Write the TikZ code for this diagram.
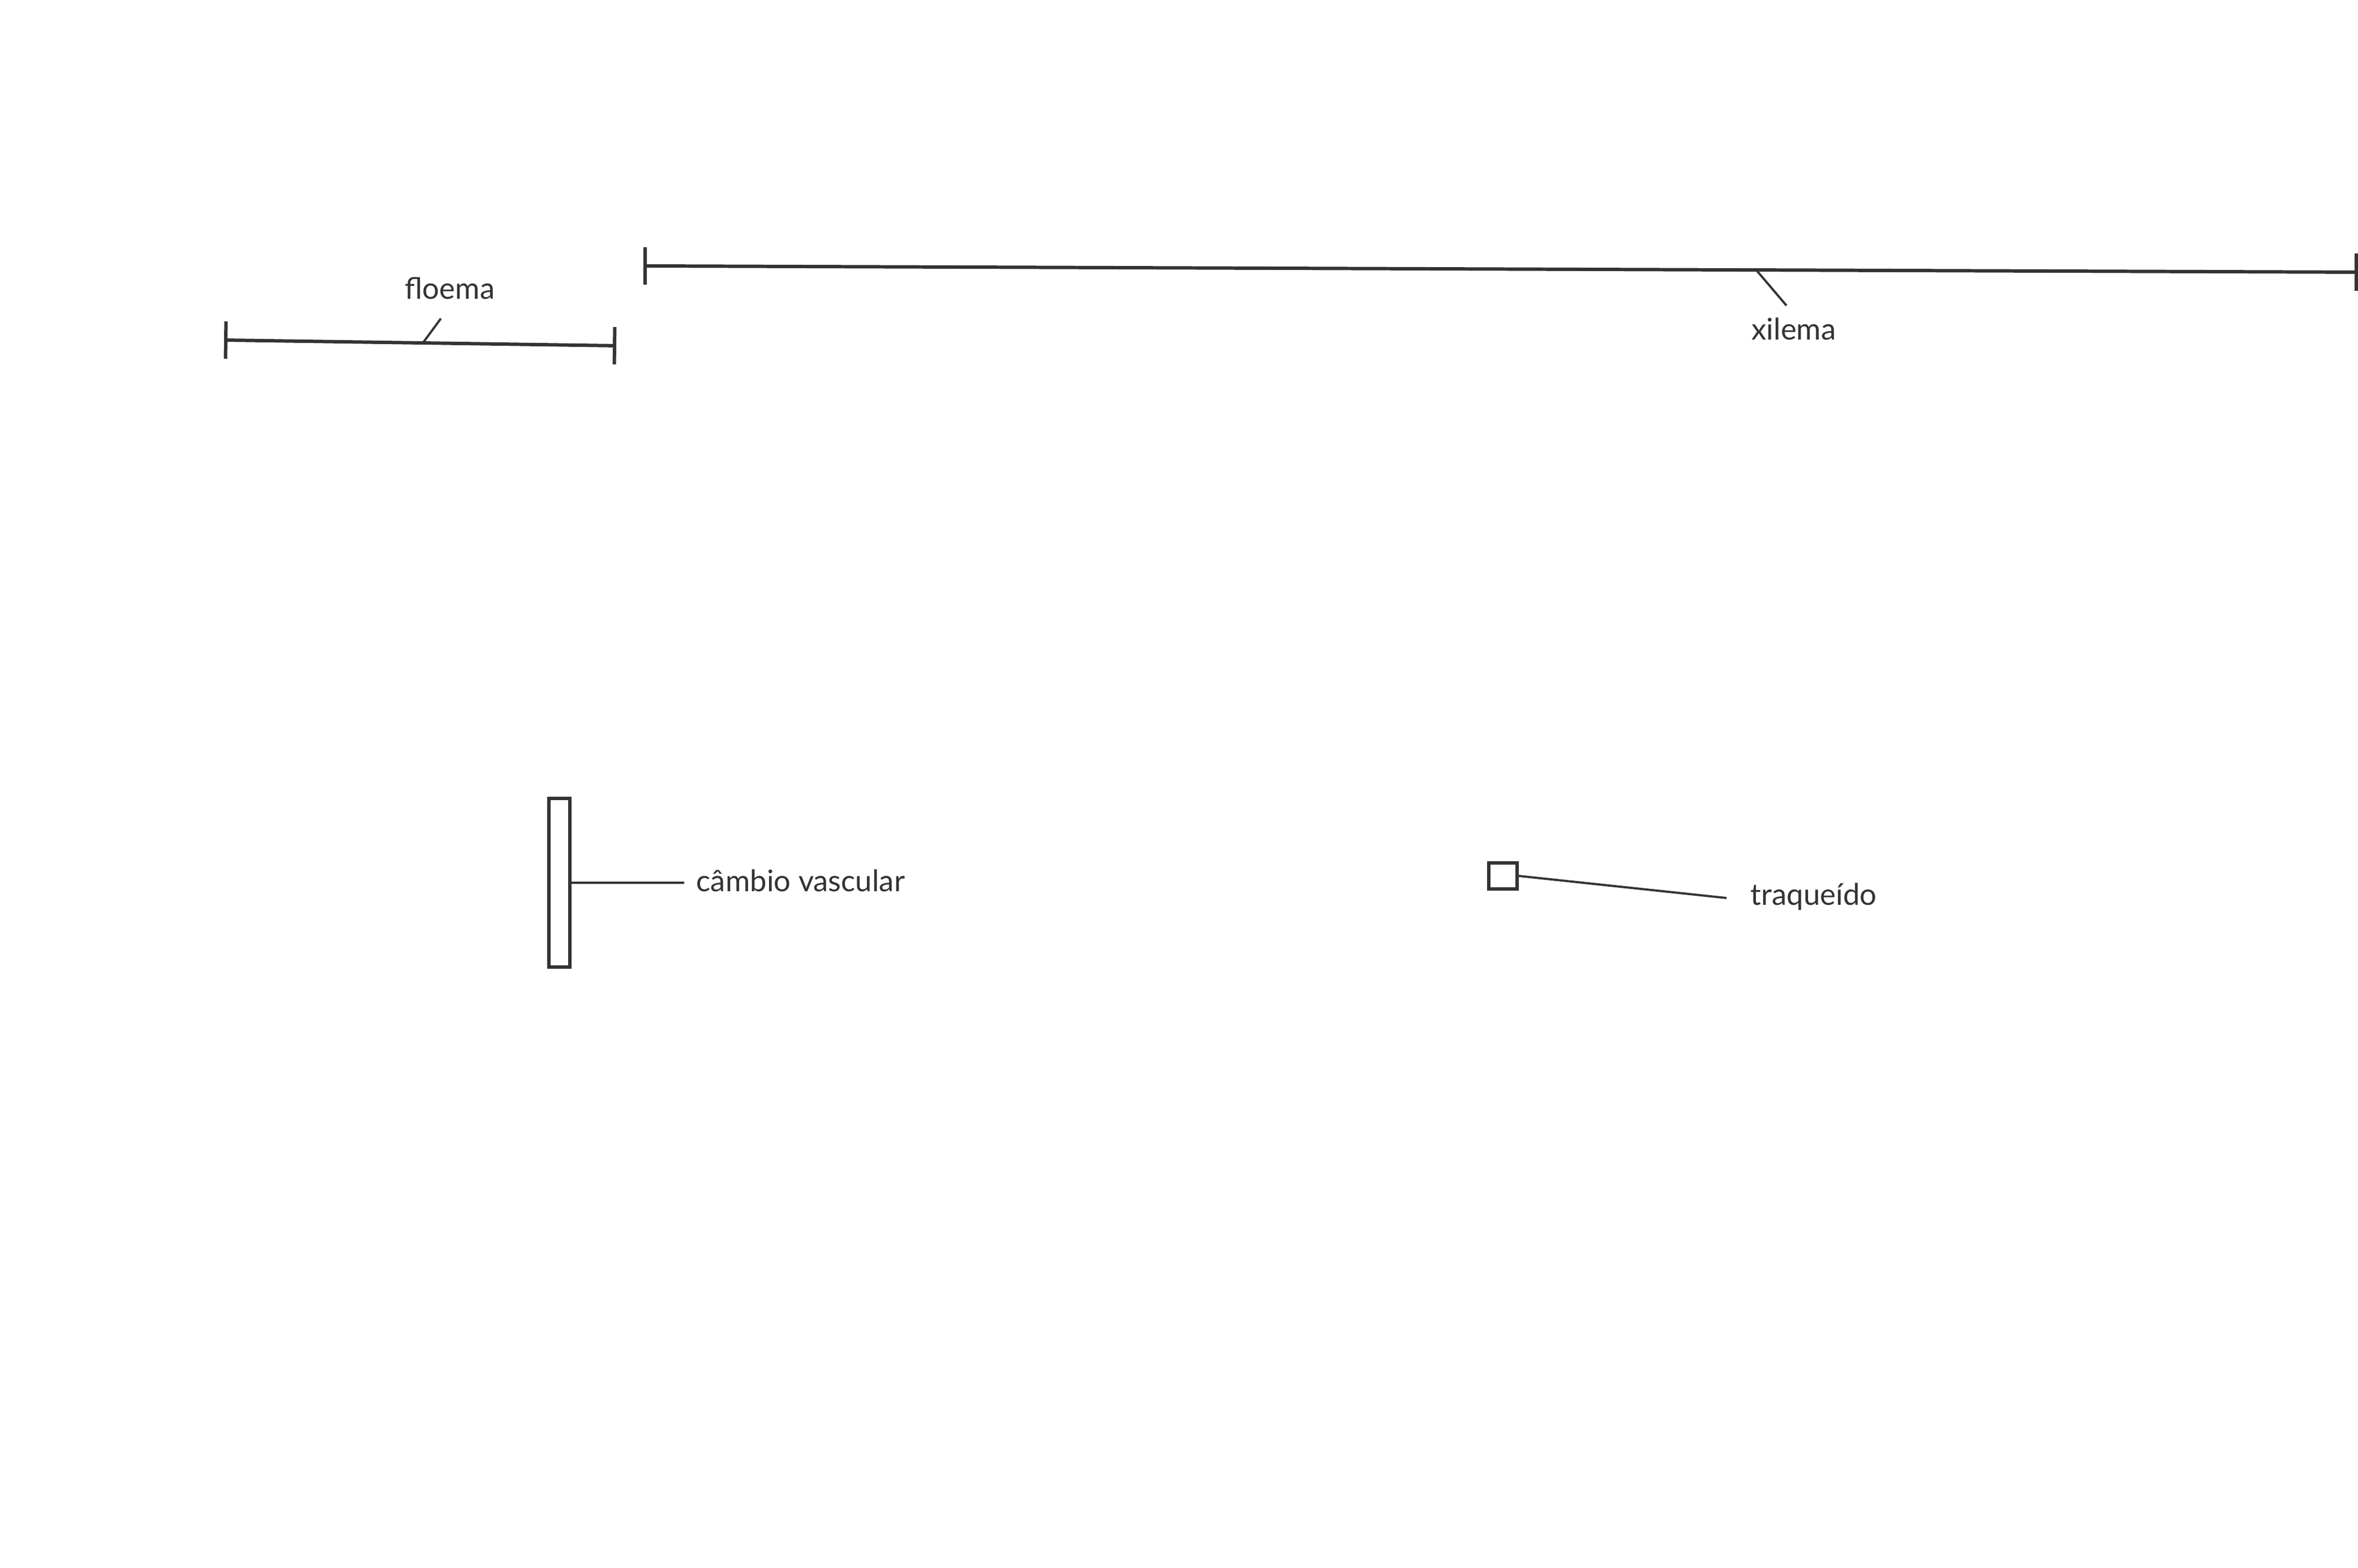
\documentclass[tikz,border=0pt]{standalone}
\usepackage{fontspec}
\setmainfont{Lato}
\usetikzlibrary{arrows.meta,calc}
\definecolor{ink}{HTML}{333333}

\begin{document}
\begin{tikzpicture}[
    bar/.style={ink, line width=1.7pt, {Bar[width=0.66cm]}-{Bar[width=0.66cm]}},
    leader/.style={ink, line width=1.1pt},
    cell/.style={draw=ink, line width=1.8pt, inner sep=0pt},
    lbl/.style={text=ink, font=\fontsize{15}{18}\selectfont, inner sep=0pt}]
    \useasboundingbox (0,0) rectangle (41.67,27.71);
    % floema
    \coordinate (floemaA) at (3.96,21.70);
    \coordinate (floemaB) at (10.89,21.60);
    \draw[bar] (floemaA) -- (floemaB);
    \coordinate (floemaTip) at (7.79,22.08);
    \node[lbl, anchor=base] (floema) at (7.95,22.42) {floema};
    \draw[leader] ($(floemaA)!0.507!(floemaB)$) -- (floemaTip);
    % xilema
    \coordinate (xilemaA) at (11.37,23.01);
    \coordinate (xilemaB) at (41.67,22.90);
    \draw[bar] (xilemaA) -- (xilemaB);
    \coordinate (xilemaTip) at (31.57,22.31);
    \node[lbl, anchor=base] (xilema) at (31.70,21.70) {xilema};
    \draw[leader] ($(xilemaA)!0.649!(xilemaB)$) -- (xilemaTip);
    % cambio vascular
    \node[cell, minimum width=0.37cm, minimum height=2.98cm] (cambio) at (9.885,12.11) {};
    \coordinate (cambioTip) at (12.09,12.11);
    \node[lbl, anchor=base west] (cambioLbl) at (12.30,11.95) {câmbio vascular};
    \draw[leader] (cambio.east) -- (cambioTip);
    % traqueido
    \node[cell, minimum width=0.5cm, minimum height=0.46cm] (traq) at (26.56,12.23) {};
    \coordinate (traqTip) at (30.51,11.84);
    \node[lbl, anchor=base west] (traqLbl) at (30.93,11.71) {traqueído};
    \draw[leader] (traq.east) -- (traqTip);
\end{tikzpicture}
\end{document}
